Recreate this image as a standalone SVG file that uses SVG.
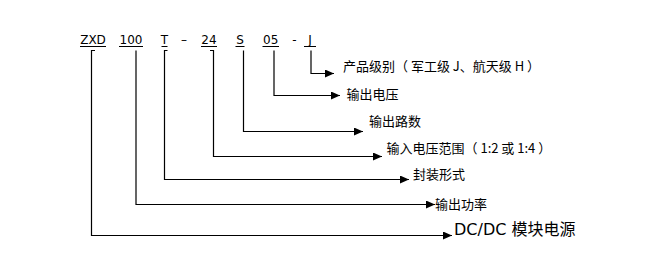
<svg xmlns="http://www.w3.org/2000/svg" width="648" height="267" viewBox="0 0 648 267">
<style>
.code{font-family:"DejaVu Sans",Verdana,sans-serif;font-size:12px;fill:#000;text-anchor:middle}
.lbl{font-family:"Noto Sans CJK SC","Noto Sans",sans-serif;font-size:13px;fill:#000}
.big{font-family:"DejaVu Sans","Noto Sans CJK SC",sans-serif;font-size:16px;fill:#000}
.ul{stroke:#000;stroke-width:1}
.conn{fill:none;stroke:#000;stroke-width:1.2}
</style>
<defs>
<marker id="arr" markerUnits="userSpaceOnUse" markerWidth="10" markerHeight="10" refX="9" refY="4" orient="auto">
<path d="M0,0 L9,4 L0,8 z" fill="#000"/>
</marker>
</defs>
<rect width="648" height="267" fill="#fff"/>
<g id="code">
<text class="code" x="93" y="44">ZXD</text>
<text class="code" x="131" y="44">100</text>
<text class="code" x="164.5" y="44">T</text>
<text class="code" x="184" y="44">–</text>
<text class="code" x="209" y="44">24</text>
<text class="code" x="240" y="44">S</text>
<text class="code" x="270.7" y="44">05</text>
<text class="code" x="294.5" y="44">-</text>
<text class="code" x="310" y="44">J</text>
<line class="ul" x1="80" y1="46.5" x2="106" y2="46.5"/>
<line class="ul" x1="119" y1="46.5" x2="143" y2="46.5"/>
<line class="ul" x1="161.5" y1="46.5" x2="167.5" y2="46.5"/>
<line class="ul" x1="201" y1="46.5" x2="217" y2="46.5"/>
<line class="ul" x1="235.5" y1="46.5" x2="244.5" y2="46.5"/>
<line class="ul" x1="262.5" y1="46.5" x2="279" y2="46.5"/>
<line class="ul" x1="304" y1="46.5" x2="316" y2="46.5"/>
</g>
<g id="connectors">
<path class="conn" d="M311,50.5 V73.5 H334" marker-end="url(#arr)"/>
<path class="conn" d="M274,50.5 V95.5 H340" marker-end="url(#arr)"/>
<path class="conn" d="M243.5,50.5 V131.5 H363" marker-end="url(#arr)"/>
<path class="conn" d="M210,50.5 H213.5 V156.5 H382" marker-end="url(#arr)"/>
<path class="conn" d="M167.5,50.5 H164.5 V179.5 H409" marker-end="url(#arr)"/>
<path class="conn" d="M136,50.5 V204.5 H435" marker-end="url(#arr)"/>
<path class="conn" d="M95,50.5 H91.5 V235.5 H452" marker-end="url(#arr)"/>
</g>
<g id="label-grade"><text class="lbl" x="343" y="70.5">产品级别（ 军工级 J、航天级 H ）</text></g>
<g id="label-vout"><text class="lbl" x="346.5" y="99">输出电压</text></g>
<g id="label-outputs"><text class="lbl" x="369" y="125.5">输出路数</text></g>
<g id="label-vin"><text class="lbl" x="386.5" y="153">输入电压范围（ 1:2 或 1:4 ）</text></g>
<g id="label-package"><text class="lbl" x="413" y="179">封装形式</text></g>
<g id="label-power"><text class="lbl" x="435" y="208.5">输出功率</text></g>
<g id="label-product"><text class="big" x="454" y="234.5">DC/DC 模块电源</text></g>
</svg>
